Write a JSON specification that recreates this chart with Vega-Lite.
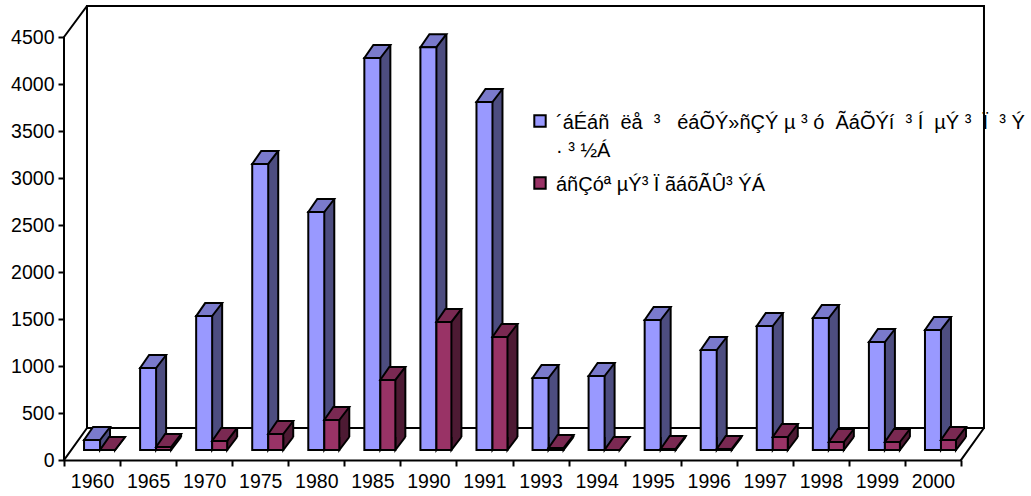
{
"$schema":"https://vega.github.io/schema/vega-lite/v6.json",
"width":967,"height":454,
"autosize":"none",
"padding":{"left":64,"top":6,"right":0,"bottom":36},
"background":"white",
"config":{"view":{"stroke":null},"font":"Liberation Sans"},
"datasets":{
"bars":[
{"year":"1960","series":"´áÉáñ\u00a0 ëå\u00a0 ³\u00a0\u00a0 éáÕÝ»ñÇÝ µ ³ ó\u00a0 ÃáÕÝí\u00a0 ³ Í\u00a0 µÝ ³\u00a0 Ï\u00a0 ³ Ý · ³ ½Á","value":106},
{"year":"1965","series":"´áÉáñ\u00a0 ëå\u00a0 ³\u00a0\u00a0 éáÕÝ»ñÇÝ µ ³ ó\u00a0 ÃáÕÝí\u00a0 ³ Í\u00a0 µÝ ³\u00a0 Ï\u00a0 ³ Ý · ³ ½Á","value":872},
{"year":"1970","series":"´áÉáñ\u00a0 ëå\u00a0 ³\u00a0\u00a0 éáÕÝ»ñÇÝ µ ³ ó\u00a0 ÃáÕÝí\u00a0 ³ Í\u00a0 µÝ ³\u00a0 Ï\u00a0 ³ Ý · ³ ½Á","value":1425},
{"year":"1975","series":"´áÉáñ\u00a0 ëå\u00a0 ³\u00a0\u00a0 éáÕÝ»ñÇÝ µ ³ ó\u00a0 ÃáÕÝí\u00a0 ³ Í\u00a0 µÝ ³\u00a0 Ï\u00a0 ³ Ý · ³ ½Á","value":3043},
{"year":"1980","series":"´áÉáñ\u00a0 ëå\u00a0 ³\u00a0\u00a0 éáÕÝ»ñÇÝ µ ³ ó\u00a0 ÃáÕÝí\u00a0 ³ Í\u00a0 µÝ ³\u00a0 Ï\u00a0 ³ Ý · ³ ½Á","value":2532},
{"year":"1985","series":"´áÉáñ\u00a0 ëå\u00a0 ³\u00a0\u00a0 éáÕÝ»ñÇÝ µ ³ ó\u00a0 ÃáÕÝí\u00a0 ³ Í\u00a0 µÝ ³\u00a0 Ï\u00a0 ³ Ý · ³ ½Á","value":4170},
{"year":"1990","series":"´áÉáñ\u00a0 ëå\u00a0 ³\u00a0\u00a0 éáÕÝ»ñÇÝ µ ³ ó\u00a0 ÃáÕÝí\u00a0 ³ Í\u00a0 µÝ ³\u00a0 Ï\u00a0 ³ Ý · ³ ½Á","value":4285},
{"year":"1991","series":"´áÉáñ\u00a0 ëå\u00a0 ³\u00a0\u00a0 éáÕÝ»ñÇÝ µ ³ ó\u00a0 ÃáÕÝí\u00a0 ³ Í\u00a0 µÝ ³\u00a0 Ï\u00a0 ³ Ý · ³ ½Á","value":3702},
{"year":"1993","series":"´áÉáñ\u00a0 ëå\u00a0 ³\u00a0\u00a0 éáÕÝ»ñÇÝ µ ³ ó\u00a0 ÃáÕÝí\u00a0 ³ Í\u00a0 µÝ ³\u00a0 Ï\u00a0 ³ Ý · ³ ½Á","value":766},
{"year":"1994","series":"´áÉáñ\u00a0 ëå\u00a0 ³\u00a0\u00a0 éáÕÝ»ñÇÝ µ ³ ó\u00a0 ÃáÕÝí\u00a0 ³ Í\u00a0 µÝ ³\u00a0 Ï\u00a0 ³ Ý · ³ ½Á","value":787},
{"year":"1995","series":"´áÉáñ\u00a0 ëå\u00a0 ³\u00a0\u00a0 éáÕÝ»ñÇÝ µ ³ ó\u00a0 ÃáÕÝí\u00a0 ³ Í\u00a0 µÝ ³\u00a0 Ï\u00a0 ³ Ý · ³ ½Á","value":1383},
{"year":"1996","series":"´áÉáñ\u00a0 ëå\u00a0 ³\u00a0\u00a0 éáÕÝ»ñÇÝ µ ³ ó\u00a0 ÃáÕÝí\u00a0 ³ Í\u00a0 µÝ ³\u00a0 Ï\u00a0 ³ Ý · ³ ½Á","value":1064},
{"year":"1997","series":"´áÉáñ\u00a0 ëå\u00a0 ³\u00a0\u00a0 éáÕÝ»ñÇÝ µ ³ ó\u00a0 ÃáÕÝí\u00a0 ³ Í\u00a0 µÝ ³\u00a0 Ï\u00a0 ³ Ý · ³ ½Á","value":1319},
{"year":"1998","series":"´áÉáñ\u00a0 ëå\u00a0 ³\u00a0\u00a0 éáÕÝ»ñÇÝ µ ³ ó\u00a0 ÃáÕÝí\u00a0 ³ Í\u00a0 µÝ ³\u00a0 Ï\u00a0 ³ Ý · ³ ½Á","value":1404},
{"year":"1999","series":"´áÉáñ\u00a0 ëå\u00a0 ³\u00a0\u00a0 éáÕÝ»ñÇÝ µ ³ ó\u00a0 ÃáÕÝí\u00a0 ³ Í\u00a0 µÝ ³\u00a0 Ï\u00a0 ³ Ý · ³ ½Á","value":1149},
{"year":"2000","series":"´áÉáñ\u00a0 ëå\u00a0 ³\u00a0\u00a0 éáÕÝ»ñÇÝ µ ³ ó\u00a0 ÃáÕÝí\u00a0 ³ Í\u00a0 µÝ ³\u00a0 Ï\u00a0 ³ Ý · ³ ½Á","value":1277},
{"year":"1960","series":"áñÇóª µÝ³ Ï ãáõÃÛ³ ÝÁ","value":0},
{"year":"1965","series":"áñÇóª µÝ³ Ï ãáõÃÛ³ ÝÁ","value":32},
{"year":"1970","series":"áñÇóª µÝ³ Ï ãáõÃÛ³ ÝÁ","value":96},
{"year":"1975","series":"áñÇóª µÝ³ Ï ãáõÃÛ³ ÝÁ","value":170},
{"year":"1980","series":"áñÇóª µÝ³ Ï ãáõÃÛ³ ÝÁ","value":319},
{"year":"1985","series":"áñÇóª µÝ³ Ï ãáõÃÛ³ ÝÁ","value":745},
{"year":"1990","series":"áñÇóª µÝ³ Ï ãáõÃÛ³ ÝÁ","value":1362},
{"year":"1991","series":"áñÇóª µÝ³ Ï ãáõÃÛ³ ÝÁ","value":1202},
{"year":"1993","series":"áñÇóª µÝ³ Ï ãáõÃÛ³ ÝÁ","value":21},
{"year":"1994","series":"áñÇóª µÝ³ Ï ãáõÃÛ³ ÝÁ","value":0},
{"year":"1995","series":"áñÇóª µÝ³ Ï ãáõÃÛ³ ÝÁ","value":11},
{"year":"1996","series":"áñÇóª µÝ³ Ï ãáõÃÛ³ ÝÁ","value":11},
{"year":"1997","series":"áñÇóª µÝ³ Ï ãáõÃÛ³ ÝÁ","value":138},
{"year":"1998","series":"áñÇóª µÝ³ Ï ãáõÃÛ³ ÝÁ","value":85},
{"year":"1999","series":"áñÇóª µÝ³ Ï ãáõÃÛ³ ÝÁ","value":85},
{"year":"2000","series":"áñÇóª µÝ³ Ï ãáõÃÛ³ ÝÁ","value":106}
],
"frame":[
{"edge":"outer","px":0,"py":0},{"edge":"outer","px":0,"py":4500},{"edge":"outer","px":0.41,"py":4830},{"edge":"outer","px":16.41,"py":4830},{"edge":"outer","px":16.41,"py":340},{"edge":"outer","px":16,"py":0},
{"edge":"wall","px":0.41,"py":4830},{"edge":"wall","px":0.41,"py":340},{"edge":"wall","px":16.41,"py":340},
{"edge":"floor","px":0,"py":0},{"edge":"floor","px":0.41,"py":340}
]},
"resolve":{"scale":{"x":"independent"}},
"layer":[
{"data":{"name":"frame"},
 "mark":{"type":"line","stroke":"black","strokeWidth":2,"strokeCap":"square"},
 "encoding":{
  "x":{"field":"px","type":"quantitative","axis":null,"scale":{"domain":[0,16],"range":[0,897],"nice":false,"zero":false}},
  "y":{"field":"py","type":"quantitative"},
  "detail":{"field":"edge"},
  "order":{"field":"ord"}}},
{"data":{"name":"bars"},
 "encoding":{
  "x":{"field":"year","type":"nominal","title":null,"scale":{"type":"band","range":[0,897],"paddingInner":0,"paddingOuter":0},
   "axis":{"labelAngle":0,"tickBand":"extent","labelFontSize":19.5,"labelColor":"black","tickColor":"black","domainColor":"black","tickWidth":2,"domainWidth":2,"tickSize":6,"labelPadding":6,"grid":false,"labelFont":"Liberation Sans"}},
  "y":{"field":"value","type":"quantitative","title":null,"stack":null,
   "scale":{"domain":[0,4830],"nice":false},
   "axis":{"values":[0,500,1000,1500,2000,2500,3000,3500,4000,4500],"format":"d","domain":false,"labelFontSize":19.5,"labelColor":"black","tickColor":"black","tickWidth":2,"tickSize":6,"labelPadding":4,"grid":false,"labelFont":"Liberation Sans"}}
 },
 "layer":[
  {"transform":[{"filter":"indexof(datum.series,'´')==0"}],
   "layer":[
    {"mark":{"type":"bar","width":10,"xOffset":13,"yOffset":-23,"y2Offset":-23,"fill":"#4D4D80","stroke":null},"encoding":{"y2":{"datum":0}}},
    {"mark":{"type":"point","shape":"M18,-23 L8,-10 L8,-23","size":4,"filled":false,"fill":"#4D4D80","stroke":"black","strokeWidth":2,"opacity":1},"encoding":{"y":{"datum":0}}},
    {"mark":{"type":"rule","xOffset":18,"yOffset":-23,"y2Offset":-23,"stroke":"black","strokeWidth":2},"encoding":{"y2":{"datum":0}}},
    {"mark":{"type":"point","shape":"M-8,-10 L1,-23 L18,-23 L8,-10 Z","size":4,"filled":false,"fill":"#7A7ACC","stroke":"black","strokeWidth":2,"opacity":1}},
    {"mark":{"type":"bar","width":16,"yOffset":-10,"y2Offset":-10,"stroke":"black","strokeWidth":2},
     "encoding":{"y2":{"datum":0},"color":{"field":"series","type":"nominal","title":null,
       "scale":{"domain":["´áÉáñ\u00a0 ëå\u00a0 ³\u00a0\u00a0 éáÕÝ»ñÇÝ µ ³ ó\u00a0 ÃáÕÝí\u00a0 ³ Í\u00a0 µÝ ³\u00a0 Ï\u00a0 ³ Ý · ³ ½Á","áñÇóª µÝ³ Ï ãáõÃÛ³ ÝÁ"],"range":["#9999FF","#993366"]},
       "legend":{"orient":"none","legendX":466,"legendY":105,"symbolType":"square","symbolSize":130,"symbolStrokeColor":"black","symbolStrokeWidth":2,"labelFontSize":20,"labelColor":"black","labelLimit":700,"labelOffset":6,"rowPadding":12,"labelFont":"Liberation Sans","labelBaseline":"top",
       "encoding":{"labels":{"dy":{"value":-8},"lineHeight":{"value":28}}},
       "labelExpr":"indexof(datum.label,'·')>0 ? [slice(datum.label,0,indexof(datum.label,'·')),slice(datum.label,indexof(datum.label,'·'))] : datum.label"}}}}
   ]},
  {"transform":[{"filter":"indexof(datum.series,'á')==0"}],
   "layer":[
    {"mark":{"type":"bar","width":10,"xOffset":28,"yOffset":-23,"y2Offset":-23,"fill":"#4D1A33","stroke":null},"encoding":{"y2":{"datum":0}}},
    {"mark":{"type":"point","shape":"M33,-23 L23,-10 L23,-23","size":4,"filled":false,"fill":"#4D1A33","stroke":"black","strokeWidth":2,"opacity":1},"encoding":{"y":{"datum":0}}},
    {"mark":{"type":"rule","xOffset":33,"yOffset":-23,"y2Offset":-23,"stroke":"black","strokeWidth":2},"encoding":{"y2":{"datum":0}}},
    {"mark":{"type":"point","shape":"M8,-10 L17,-23 L33,-23 L23,-10 Z","size":4,"filled":false,"fill":"#7A2952","stroke":"black","strokeWidth":2,"opacity":1}},
    {"mark":{"type":"bar","width":15,"xOffset":15.5,"yOffset":-10,"y2Offset":-10,"stroke":"black","strokeWidth":2},
     "encoding":{"y2":{"datum":0},"color":{"field":"series","type":"nominal","title":null}}}
   ]}
 ]}
]}
